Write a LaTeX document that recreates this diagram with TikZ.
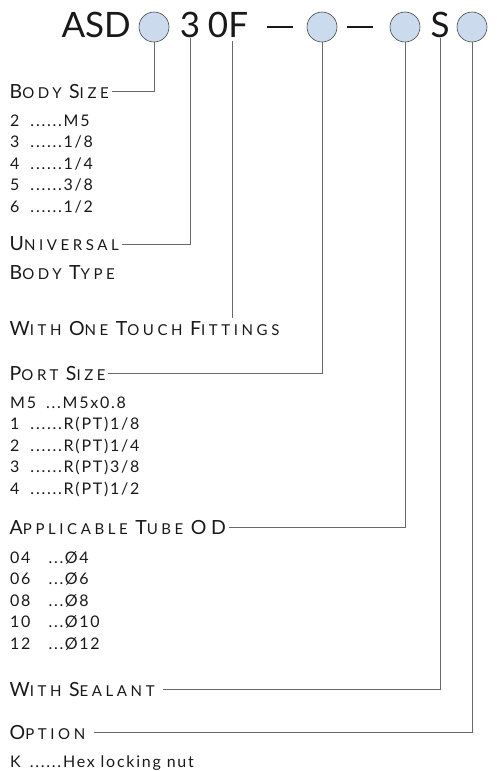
\documentclass[tikz,border=0pt]{standalone}
\usepackage{fontspec}
\setmainfont{Lato}
\newfontfamily\headfont[LetterSpace=24]{Lato}
\newfontfamily\itemfont[LetterSpace=11]{Lato}
\usepackage{xcolor}
\definecolor{textcolor}{RGB}{25,25,25}
\definecolor{leadcolor}{RGB}{105,105,105}
\definecolor{slotcolor}{RGB}{204,218,238}
\definecolor{slotedge}{RGB}{70,70,70}
\newcommand{\initcap}[1]{{\fontsize{19.5}{19.5}\selectfont #1}}

\begin{document}
\begin{tikzpicture}[x=1pt,y=-1pt]
  \tikzset{
    title/.style={
      font=\fontsize{35}{35}\selectfont,
      text=textcolor,
      inner sep=1pt,
      anchor=base
    },
    slot/.style={
      circle,
      draw=slotedge,
      line width=0.6pt,
      fill=slotcolor,
      minimum size=30pt,
      inner sep=0pt
    },
    heading/.style={
      font=\headfont\fontsize{15}{15}\selectfont,
      text=textcolor,
      inner sep=2.5pt,
      text depth=0pt,
      anchor=west
    },
    choice/.style={
      font=\itemfont\fontsize{16}{16}\selectfont,
      text=textcolor,
      inner sep=0pt,
      anchor=base west
    },
    lead/.style={
      draw=leadcolor,
      line width=0.8pt
    }
  }
  \useasboundingbox (0,0) rectangle (496,771);

  % Draw the model code
    \node[title, anchor=base east] (asd) at (132,37) {ASD};
    \node[slot] (c1) at (154,27) {};
    \node[title] (three) at (190,37) {3};
    \node[title] (zerof) at (228,37) {0F};
    \coordinate (fpin) at (232,41);
    \node[title] (dash1) at (280,37) {\rule[9pt]{26pt}{1.7pt}};
    \node[slot] (c2) at (322,27) {};
    \node[title] (dash2) at (360,37) {\rule[9pt]{26pt}{1.7pt}};
    \node[slot] (c3) at (405,27) {};
    \node[title] (ess) at (440,37) {S};
    \node[slot] (c4) at (472,27) {};

  % Body size
    \node[heading] (bodysize) at (7,91) {\initcap{B}ODY \initcap{S}IZE};
    \node[choice] (bs2) at (10,126) {2\hspace{11pt}......M5};
    \node[choice] (bs3) at (10,147.5) {3\hspace{11pt}......1/8};
    \node[choice] (bs4) at (10,169) {4\hspace{11pt}......1/4};
    \node[choice] (bs5) at (10,190.5) {5\hspace{11pt}......3/8};
    \node[choice] (bs6) at (10,212) {6\hspace{11pt}......1/2};

  % Body type
    \node[heading] (universal) at (7,244) {\initcap{U}NIVERSAL};
    \node[heading] (bodytype) at (7,273) {\initcap{B}ODY \initcap{T}YPE};
    \node[heading] (touch) at (7,328) {\initcap{W}ITH \initcap{O}NE \initcap{T}OUCH \initcap{F}ITTINGS};

  % Port size
    \node[heading] (portsize) at (7,373) {\initcap{P}ORT \initcap{S}IZE};
    \node[choice] (psM5) at (10,408) {M5\hspace{10pt}...M5x0.8};
    \node[choice] (ps1) at (10,429.5) {1\hspace{11pt}......R(PT)1/8};
    \node[choice] (ps2) at (10,451) {2\hspace{11pt}......R(PT)1/4};
    \node[choice] (ps3) at (10,472.5) {3\hspace{11pt}......R(PT)3/8};
    \node[choice] (ps4) at (10,494) {4\hspace{11pt}......R(PT)1/2};

  % Tube OD
    \node[heading] (tube) at (7,527) {\initcap{A}PPLICABLE \initcap{T}UBE \initcap{OD}};
    \node[choice] (od04) at (10,563) {04\hspace{18pt}...Ø4};
    \node[choice] (od06) at (10,584.5) {06\hspace{18pt}...Ø6};
    \node[choice] (od08) at (10,606) {08\hspace{18pt}...Ø8};
    \node[choice] (od10) at (10,627.5) {10\hspace{18pt}...Ø10};
    \node[choice] (od12) at (10,649) {12\hspace{18pt}...Ø12};

  % Sealant and option
    \node[heading] (sealant) at (7,689) {\initcap{W}ITH \initcap{S}EALANT};
    \node[heading] (option) at (7,732) {\initcap{O}PTION};
    \node[choice] (optK) at (10,767) {K\hspace{9pt}......Hex locking nut};

  % Draw the leaders
    \draw[lead] (c1.south) |- (bodysize.east);
    \draw[lead] (three.south) |- (universal.east);
    \draw[lead] (fpin) -- (fpin |- touch.north);
    \draw[lead] (c2.south) |- (portsize.east);
    \draw[lead] (c3.south) |- (tube.east);
    \draw[lead] (ess.south) |- ([xshift=6pt]sealant.east);
    \draw[lead] (c4.south) |- ([xshift=6pt]option.east);
\end{tikzpicture}
\end{document}
